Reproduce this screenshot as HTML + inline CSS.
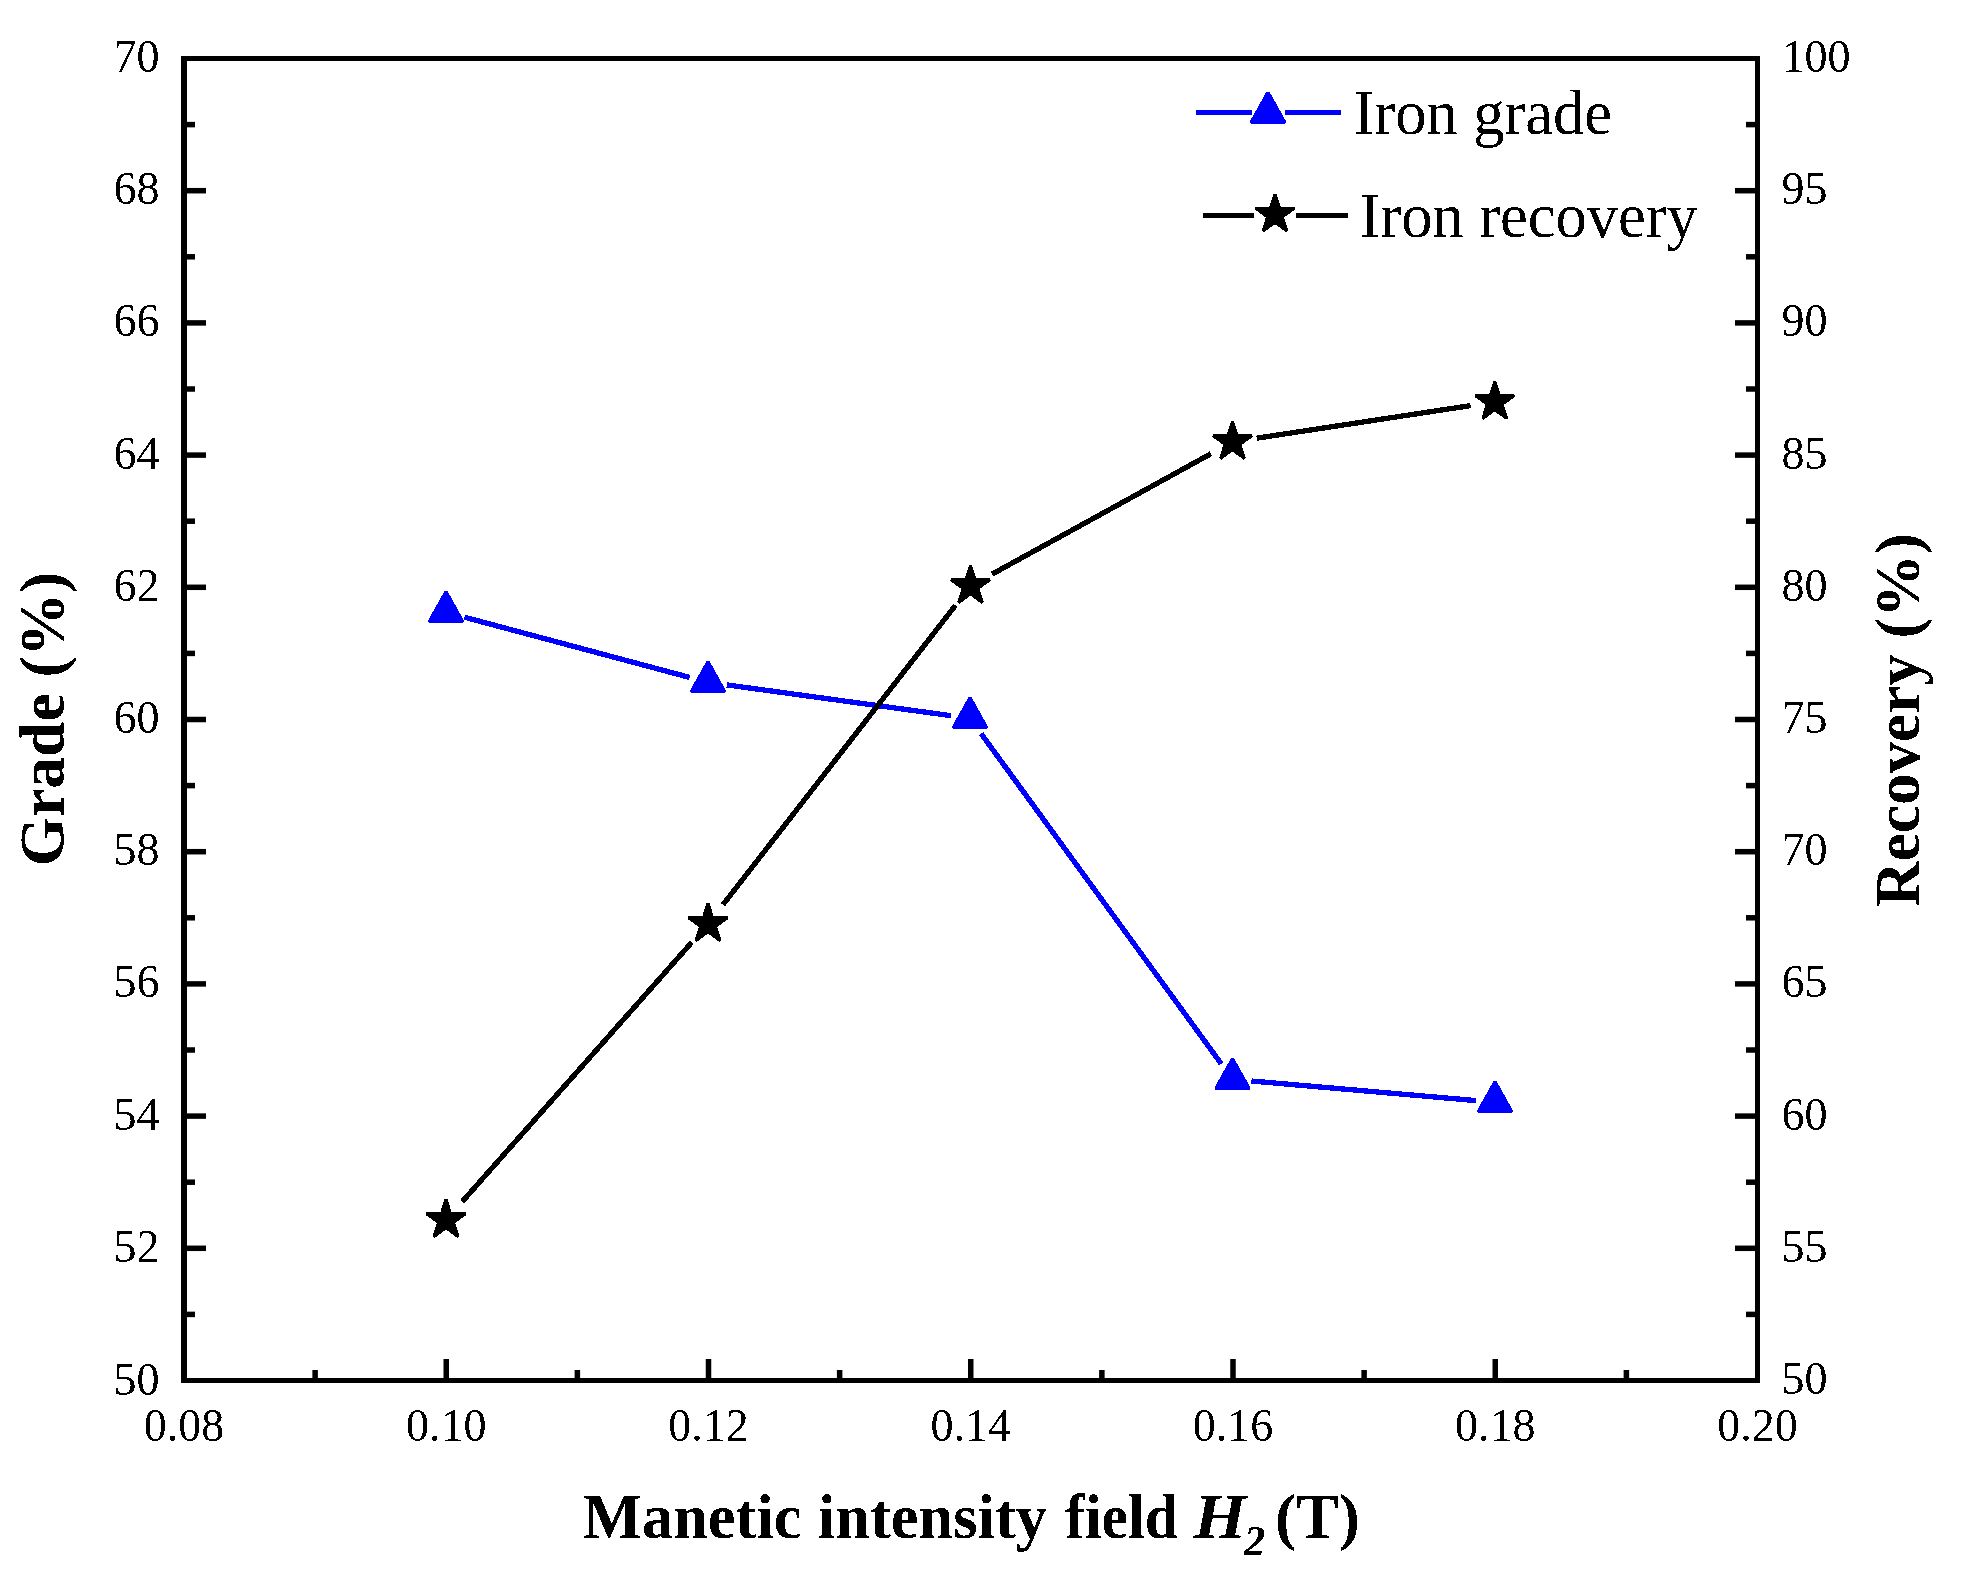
<!DOCTYPE html>
<html lang="en"><head><meta charset="utf-8"><title>Grade and recovery vs magnetic field intensity</title>
<style>html,body{margin:0;padding:0;background:#fff}svg{display:block}text{font-family:"Liberation Serif","Times New Roman",serif;fill:#000;filter:url(#bw)}.t{font-size:46px}.b{font-size:63px;font-weight:bold}.l{font-size:62.5px}</style></head><body>
<svg width="1963" height="1587" viewBox="0 0 1963 1587">
<rect x="0" y="0" width="1963" height="1587" fill="#fff"/>
<defs><filter id="bw" x="-5%" y="-20%" width="110%" height="140%" color-interpolation-filters="sRGB"><feComponentTransfer><feFuncA type="discrete" tableValues="0 1"/></feComponentTransfer></filter></defs>
<g fill="#000" shape-rendering="crispEdges">
<rect x="181" y="56" width="6" height="1327"/>
<rect x="1755" y="56" width="5" height="1327"/>
<rect x="181" y="56" width="1579" height="5"/>
<rect x="181" y="1378" width="1579" height="5"/>
</g><g fill="#000">
<rect x="181" y="1311.65" width="14" height="5.5"/>
<rect x="181" y="1245.55" width="25" height="5.5"/>
<rect x="181" y="1179.45" width="14" height="5.5"/>
<rect x="181" y="1113.35" width="25" height="5.5"/>
<rect x="181" y="1047.25" width="14" height="5.5"/>
<rect x="181" y="981.15" width="25" height="5.5"/>
<rect x="181" y="915.05" width="14" height="5.5"/>
<rect x="181" y="848.95" width="25" height="5.5"/>
<rect x="181" y="782.85" width="14" height="5.5"/>
<rect x="181" y="716.75" width="25" height="5.5"/>
<rect x="181" y="650.65" width="14" height="5.5"/>
<rect x="181" y="584.55" width="25" height="5.5"/>
<rect x="181" y="518.45" width="14" height="5.5"/>
<rect x="181" y="452.35" width="25" height="5.5"/>
<rect x="181" y="386.25" width="14" height="5.5"/>
<rect x="181" y="320.15" width="25" height="5.5"/>
<rect x="181" y="254.05" width="14" height="5.5"/>
<rect x="181" y="187.95" width="25" height="5.5"/>
<rect x="181" y="121.85" width="14" height="5.5"/>
<rect x="1746" y="1311.65" width="14" height="5.5"/>
<rect x="1735" y="1245.55" width="25" height="5.5"/>
<rect x="1746" y="1179.45" width="14" height="5.5"/>
<rect x="1735" y="1113.35" width="25" height="5.5"/>
<rect x="1746" y="1047.25" width="14" height="5.5"/>
<rect x="1735" y="981.15" width="25" height="5.5"/>
<rect x="1746" y="915.05" width="14" height="5.5"/>
<rect x="1735" y="848.95" width="25" height="5.5"/>
<rect x="1746" y="782.85" width="14" height="5.5"/>
<rect x="1735" y="716.75" width="25" height="5.5"/>
<rect x="1746" y="650.65" width="14" height="5.5"/>
<rect x="1735" y="584.55" width="25" height="5.5"/>
<rect x="1746" y="518.45" width="14" height="5.5"/>
<rect x="1735" y="452.35" width="25" height="5.5"/>
<rect x="1746" y="386.25" width="14" height="5.5"/>
<rect x="1735" y="320.15" width="25" height="5.5"/>
<rect x="1746" y="254.05" width="14" height="5.5"/>
<rect x="1735" y="187.95" width="25" height="5.5"/>
<rect x="1746" y="121.85" width="14" height="5.5"/>
<rect x="312.37" y="1370" width="5.5" height="13"/>
<rect x="443.50" y="1359" width="5.5" height="24"/>
<rect x="574.62" y="1370" width="5.5" height="13"/>
<rect x="705.75" y="1359" width="5.5" height="24"/>
<rect x="836.88" y="1370" width="5.5" height="13"/>
<rect x="968.00" y="1359" width="5.5" height="24"/>
<rect x="1099.12" y="1370" width="5.5" height="13"/>
<rect x="1230.25" y="1359" width="5.5" height="24"/>
<rect x="1361.38" y="1370" width="5.5" height="13"/>
<rect x="1492.50" y="1359" width="5.5" height="24"/>
<rect x="1623.63" y="1370" width="5.5" height="13"/>
</g>
<g shape-rendering="crispEdges">
<line x1="464.4" y1="617.2" x2="689.6" y2="677.4" stroke="#0000ff" stroke-width="5.3"/>
<line x1="726.8" y1="684.9" x2="951.2" y2="715.7" stroke="#0000ff" stroke-width="5.3"/>
<line x1="981.2" y1="733.7" x2="1221.3" y2="1063.9" stroke="#0000ff" stroke-width="5.3"/>
<line x1="1251.4" y1="1081.0" x2="1476.1" y2="1100.6" stroke="#0000ff" stroke-width="5.3"/>
<polygon points="446.0,591.7 462.8,621.7 429.2,621.7" fill="#0000ff" stroke="#0000ff" stroke-width="3.2" stroke-linejoin="bevel"/>
<polygon points="708.0,661.7 724.8,691.7 691.2,691.7" fill="#0000ff" stroke="#0000ff" stroke-width="3.2" stroke-linejoin="bevel"/>
<polygon points="970.0,697.7 986.8,727.7 953.2,727.7" fill="#0000ff" stroke="#0000ff" stroke-width="3.2" stroke-linejoin="bevel"/>
<polygon points="1232.5,1058.7 1249.3,1088.7 1215.7,1088.7" fill="#0000ff" stroke="#0000ff" stroke-width="3.2" stroke-linejoin="bevel"/>
<polygon points="1495.0,1081.7 1511.8,1111.7 1478.2,1111.7" fill="#0000ff" stroke="#0000ff" stroke-width="3.2" stroke-linejoin="bevel"/>
<line x1="462.2" y1="1201.7" x2="691.8" y2="942.3" stroke="#000" stroke-width="5.3"/>
<line x1="723.0" y1="904.7" x2="955.5" y2="605.3" stroke="#000" stroke-width="5.3"/>
<line x1="992.0" y1="574.2" x2="1211.0" y2="453.7" stroke="#000" stroke-width="5.3"/>
<line x1="1256.7" y1="438.2" x2="1470.6" y2="405.6" stroke="#000" stroke-width="5.3"/>
<polygon points="446.0,1199.5 450.6,1213.7 465.5,1213.7 453.4,1222.4 458.0,1236.6 446.0,1227.8 434.0,1236.6 438.6,1222.4 426.5,1213.7 441.4,1213.7" fill="#000" stroke="#000" stroke-width="3" stroke-linejoin="bevel"/>
<polygon points="708.0,903.5 712.6,917.7 727.5,917.7 715.4,926.4 720.0,940.6 708.0,931.8 696.0,940.6 700.6,926.4 688.5,917.7 703.4,917.7" fill="#000" stroke="#000" stroke-width="3" stroke-linejoin="bevel"/>
<polygon points="970.5,565.5 975.1,579.7 990.0,579.7 977.9,588.4 982.5,602.6 970.5,593.8 958.5,602.6 963.1,588.4 951.0,579.7 965.9,579.7" fill="#000" stroke="#000" stroke-width="3" stroke-linejoin="bevel"/>
<polygon points="1232.5,421.4 1237.1,435.6 1252.0,435.6 1239.9,444.3 1244.5,458.5 1232.5,449.7 1220.5,458.5 1225.1,444.3 1213.0,435.6 1227.9,435.6" fill="#000" stroke="#000" stroke-width="3" stroke-linejoin="bevel"/>
<polygon points="1494.8,381.4 1499.4,395.6 1514.3,395.6 1502.2,404.3 1506.8,418.5 1494.8,409.7 1482.8,418.5 1487.4,404.3 1475.3,395.6 1490.2,395.6" fill="#000" stroke="#000" stroke-width="3" stroke-linejoin="bevel"/>
</g>
<g shape-rendering="crispEdges">
<line x1="1196" y1="112.5" x2="1252" y2="112.5" stroke="#0000ff" stroke-width="5"/>
<line x1="1285" y1="112.5" x2="1341" y2="112.5" stroke="#0000ff" stroke-width="5"/>
<polygon points="1268.0,92.3 1284.8,122.3 1251.2,122.3" fill="#0000ff" stroke="#0000ff" stroke-width="3.2" stroke-linejoin="bevel"/>
<line x1="1203" y1="215.3" x2="1254" y2="215.3" stroke="#000" stroke-width="5"/>
<line x1="1296" y1="215.3" x2="1348" y2="215.3" stroke="#000" stroke-width="5"/>
<polygon points="1275.0,194.0 1279.6,208.2 1294.5,208.2 1282.4,216.9 1287.0,231.1 1275.0,222.3 1263.0,231.1 1267.6,216.9 1255.5,208.2 1270.4,208.2" fill="#000" stroke="#000" stroke-width="3" stroke-linejoin="bevel"/>
<text class="l" x="1353.5" y="133.7">Iron grade</text>
<text class="l" x="1359.5" y="236.8">Iron recovery</text>
</g>
<g class="t">
<text x="159.5" y="1395.0" text-anchor="end">50</text>
<text x="159.5" y="1261.8" text-anchor="end">52</text>
<text x="159.5" y="1129.6" text-anchor="end">54</text>
<text x="159.5" y="997.4" text-anchor="end">56</text>
<text x="159.5" y="865.2" text-anchor="end">58</text>
<text x="159.5" y="733.0" text-anchor="end">60</text>
<text x="159.5" y="600.8" text-anchor="end">62</text>
<text x="159.5" y="468.6" text-anchor="end">64</text>
<text x="159.5" y="336.4" text-anchor="end">66</text>
<text x="159.5" y="204.2" text-anchor="end">68</text>
<text x="159.5" y="72.0" text-anchor="end">70</text>
<text x="1781.5" y="1394.0">50</text>
<text x="1781.5" y="1261.8">55</text>
<text x="1781.5" y="1129.6">60</text>
<text x="1781.5" y="997.4">65</text>
<text x="1781.5" y="865.2">70</text>
<text x="1781.5" y="733.0">75</text>
<text x="1781.5" y="600.8">80</text>
<text x="1781.5" y="468.6">85</text>
<text x="1781.5" y="336.4">90</text>
<text x="1781.5" y="204.2">95</text>
<text x="1781.5" y="72.0">100</text>
<text x="184.0" y="1441" text-anchor="middle">0.08</text>
<text x="446.3" y="1441" text-anchor="middle">0.10</text>
<text x="708.5" y="1441" text-anchor="middle">0.12</text>
<text x="970.8" y="1441" text-anchor="middle">0.14</text>
<text x="1233.0" y="1441" text-anchor="middle">0.16</text>
<text x="1495.2" y="1441" text-anchor="middle">0.18</text>
<text x="1757.5" y="1441" text-anchor="middle">0.20</text>
</g>
<text class="b" y="1537.5"><tspan x="583" textLength="218.4" lengthAdjust="spacingAndGlyphs">Manetic</tspan> <tspan x="818" textLength="229" lengthAdjust="spacingAndGlyphs">intensity</tspan> <tspan x="1065" textLength="113" lengthAdjust="spacingAndGlyphs">field</tspan> <tspan x="1193.5" font-style="italic" textLength="53" lengthAdjust="spacingAndGlyphs">H</tspan><tspan x="1244" font-style="italic" font-size="42.5px" dy="17">2</tspan><tspan x="1275" dy="-17" textLength="85" lengthAdjust="spacingAndGlyphs">(T)</tspan></text>
<text class="b" transform="translate(63.5,719) rotate(-90)" text-anchor="middle" style="font-size:63.5px">Grade (%)</text>
<text class="b" transform="translate(1919,720) rotate(-90)" text-anchor="middle" style="font-size:63.2px">Recovery (%)</text>
</svg></body></html>
